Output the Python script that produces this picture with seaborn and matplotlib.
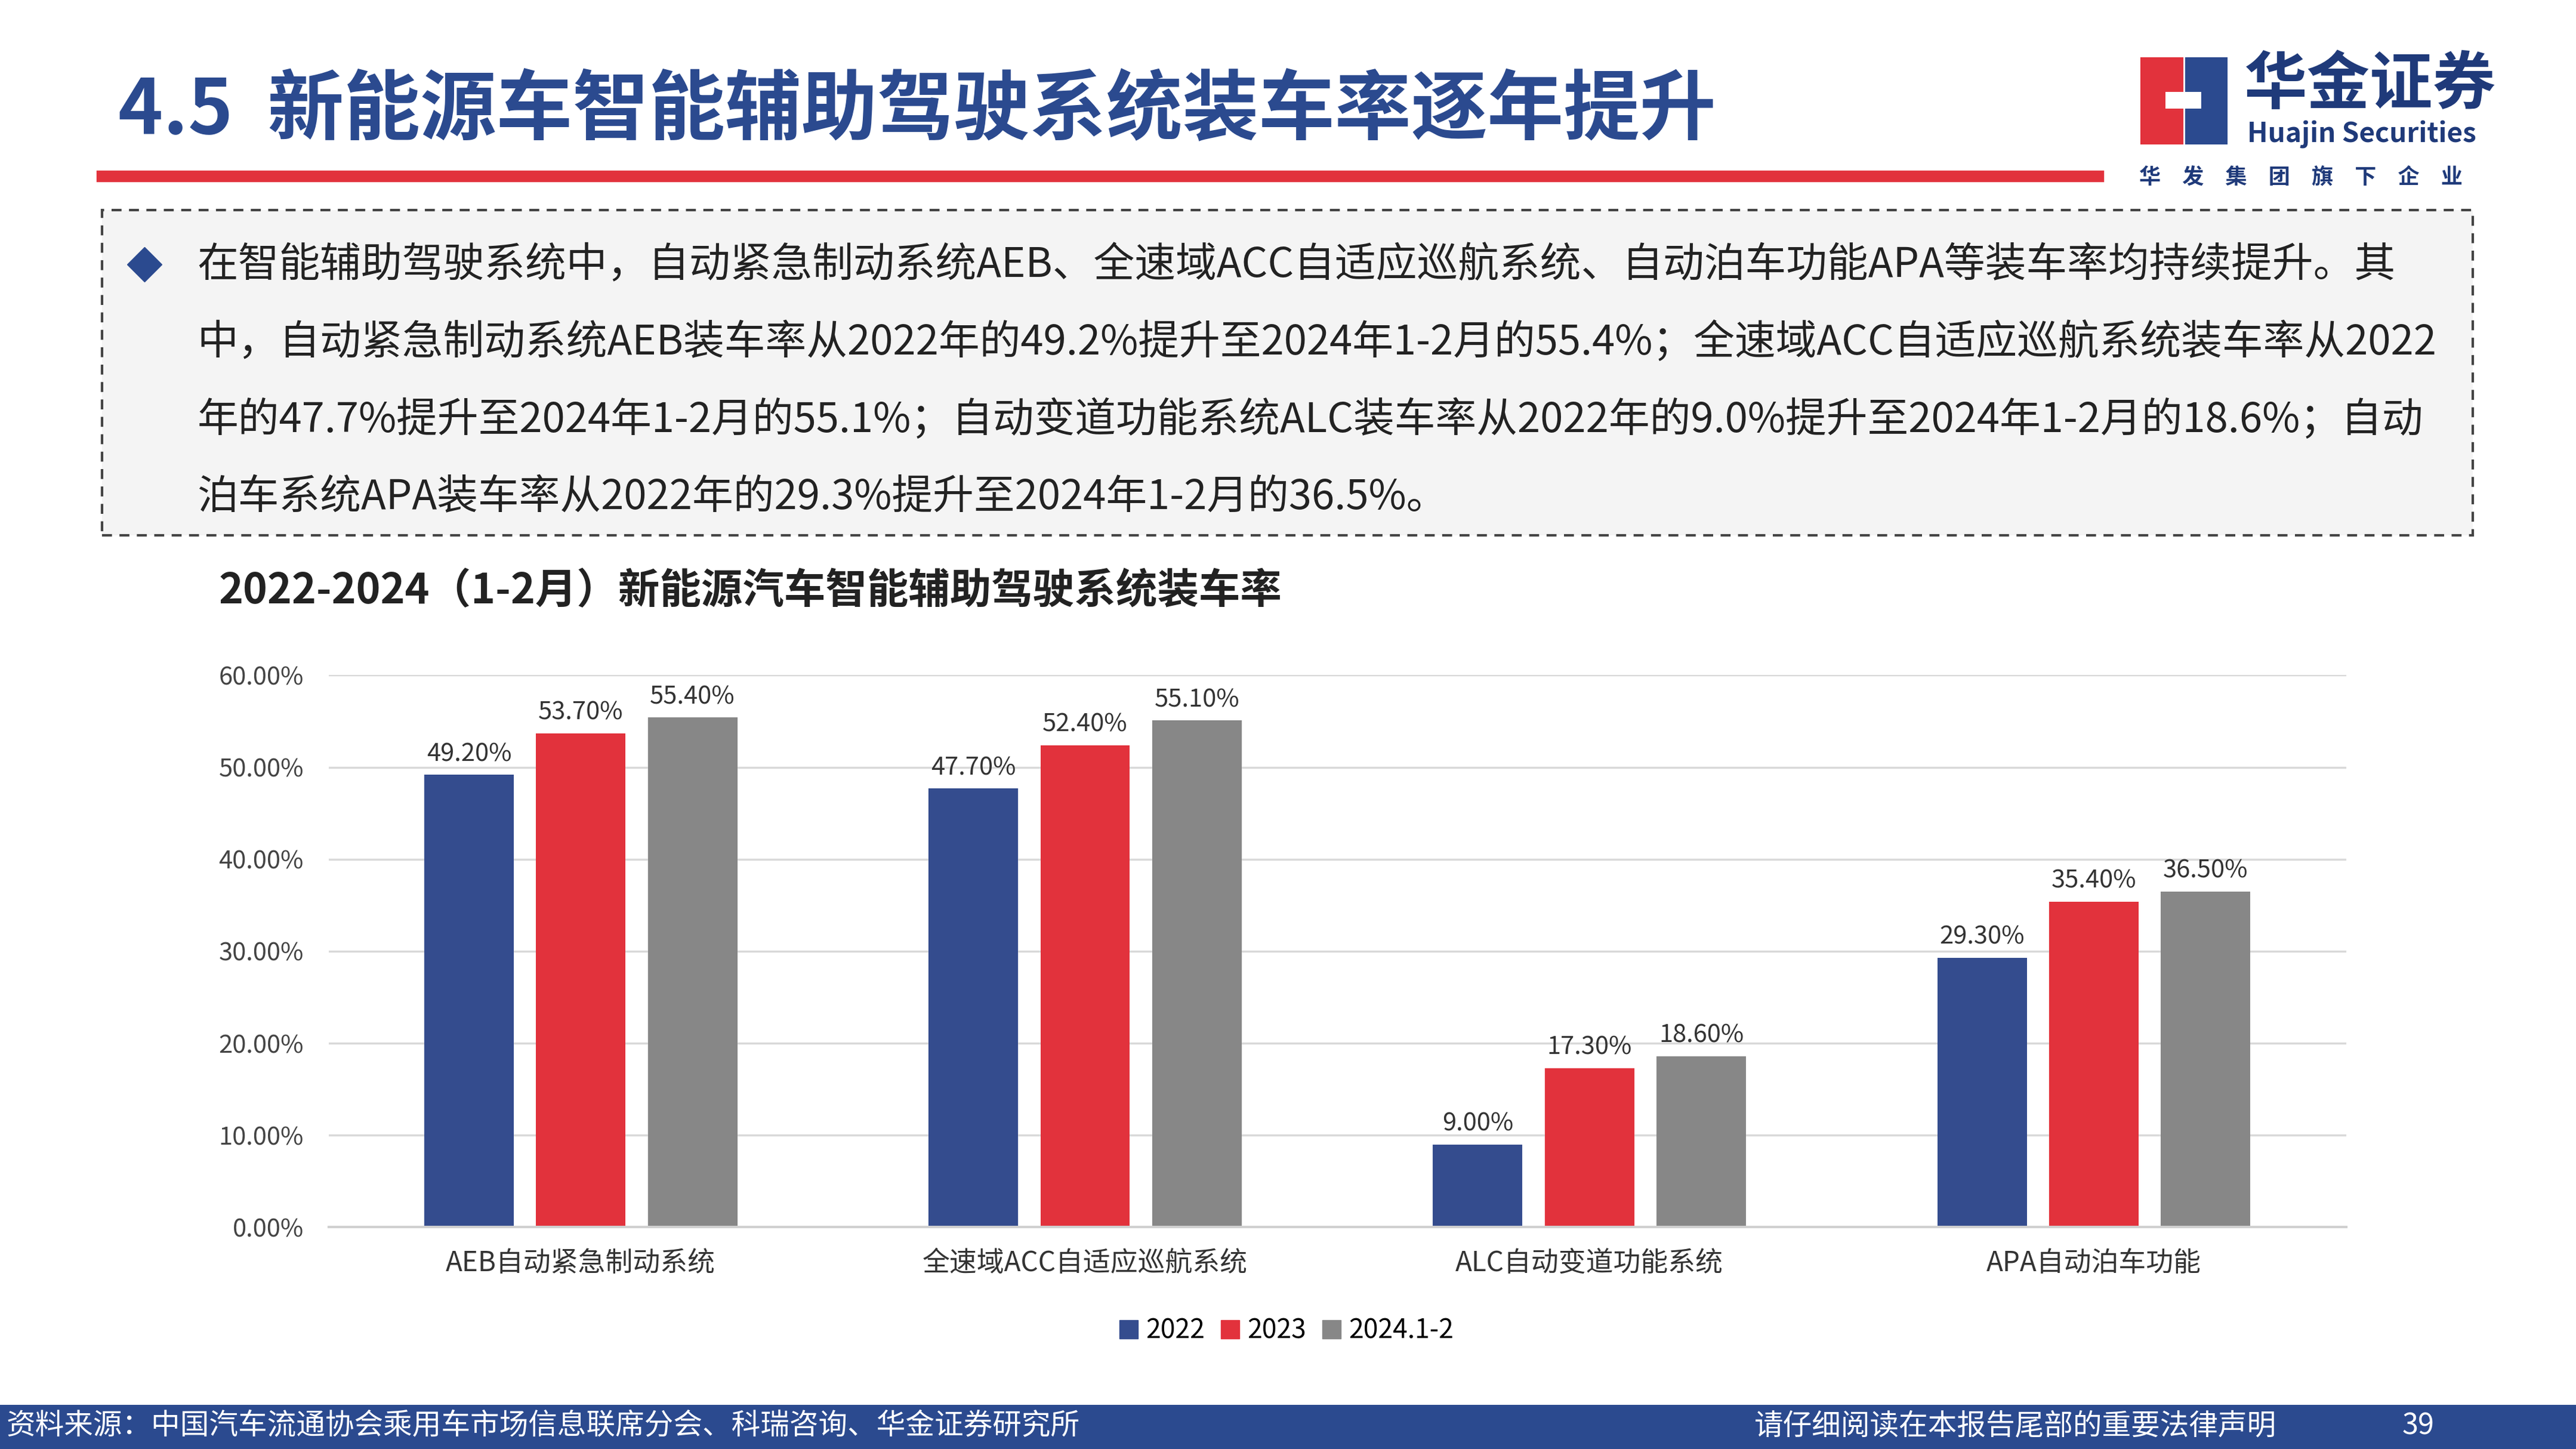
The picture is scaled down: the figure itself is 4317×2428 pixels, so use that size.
import pandas as pd
import matplotlib.pyplot as plt
import matplotlib.patches as mpatches
import seaborn as sns

plt.rcParams['font.family'] = ['Noto Sans CJK SC', 'DejaVu Sans']

categories = ['AEB自动紧急制动系统', '全速域ACC自适应巡航系统', 'ALC自动变道功能系统', 'APA自动泊车功能']
years = ['2022', '2023', '2024.1-2']
rate_2022 = [49.2, 47.7, 9.0, 29.3]
rate_2023 = [53.7, 52.4, 17.3, 35.4]
rate_2024 = [55.4, 55.1, 18.6, 36.5]
yticks = [0, 10, 20, 30, 40, 50, 60]

colors = ['#344C8E', '#E2323C', '#878787']
blue_title = '#2B4A8F'

rows = []
for vals, yr in zip([rate_2022, rate_2023, rate_2024], years):
    for c, v in zip(categories, vals):
        rows.append({'cat': c, 'year': yr, 'val': v})
df = pd.DataFrame(rows)

W, H = 1568, 882  # reference layout units
fig = plt.figure(figsize=(43.17, 24.28), dpi=100)


def fx(x):
    return x / W


def fy(y):
    return 1 - y / H


# title
fig.text(fx(72), fy(68), '4.5  新能源车智能辅助驾驶系统装车率逐年提升', fontsize=92,
         fontweight='bold', color=blue_title, va='center', ha='left')
fig.add_artist(plt.Line2D([fx(62), fx(1277)], [fy(107), fy(107)], color='#E2323C', lw=14))

# logo
fig.add_artist(mpatches.Rectangle((fx(1303), fy(88)), fx(26), 53 / H, color='#E2323C', lw=0))
fig.add_artist(mpatches.Rectangle((fx(1330), fy(88)), fx(26), 53 / H, color='#2B4A8F', lw=0))
fig.add_artist(mpatches.Rectangle((fx(1318), fy(66)), fx(22), 10 / H, color='white', lw=0))
fig.text(fx(1366), fy(52), '华金证券', fontsize=76, fontweight='bold', color='#1F3A7A', va='center')
fig.text(fx(1368), fy(82), 'Huajin Securities', fontsize=33, fontweight='bold', color='#1F3A7A', va='center')
fig.text(fx(1302), fy(108), '华　发　集　团　旗　下　企　业', fontsize=26, fontweight='bold',
         color='#1F3A7A', va='center')

# dashed text box
fig.add_artist(mpatches.Rectangle((fx(62), fy(326)), fx(1443), 198 / H, facecolor='#F4F4F4',
                                  edgecolor='#444444', lw=3, ls=(0, (4, 3))))
fig.add_artist(plt.Line2D([fx(88)], [fy(161)], marker='D', color='#2B4A8F', markersize=30))
lines = [
    '在智能辅助驾驶系统中，自动紧急制动系统AEB、全速域ACC自适应巡航系统、自动泊车功能APA等装车率均持续提升。其',
    '中，自动紧急制动系统AEB装车率从2022年的49.2%提升至2024年1-2月的55.4%；全速域ACC自适应巡航系统装车率从2022',
    '年的47.7%提升至2024年1-2月的55.1%；自动变道功能系统ALC装车率从2022年的9.0%提升至2024年1-2月的18.6%；自动',
    '泊车系统APA装车率从2022年的29.3%提升至2024年1-2月的36.5%。',
]
for i, t in enumerate(lines):
    fig.text(fx(120), fy(162 + i * 47), t, fontsize=49.5, color='#222222', va='center', ha='left')

# chart title
fig.text(fx(133), fy(360), '2022-2024（1-2月）新能源汽车智能辅助驾驶系统装车率', fontsize=50,
         fontweight='bold', color='#222222', va='center')

# chart
ax = fig.add_axes([fx(200), fy(747), fx(1228), (747 - 411) / H])
sns.barplot(data=df, x='cat', y='val', hue='year', palette=colors, width=0.665, gap=0.2,
            saturation=1, ax=ax, legend=False)
for cont in ax.containers:
    ax.bar_label(cont, labels=[f'{v:.2f}%' for v in cont.datavalues], padding=10,
                 fontsize=30, color='#333333')
ax.set_xlim(-0.5, 3.5)
ax.set_ylim(0, 60)
ax.set_yticks(yticks)
ax.set_yticklabels([f'{v:.2f}%' for v in yticks], fontsize=30, color='#444444')
ax.tick_params(axis='x', labelsize=33, colors='#333333', length=0, pad=26)
ax.tick_params(axis='y', length=0, pad=30)
ax.grid(axis='y', color='#D9D9D9', lw=2.5)
ax.set_axisbelow(True)
for s in ['top', 'right', 'left']:
    ax.spines[s].set_visible(False)
ax.spines['bottom'].set_color('#D0D0D0')
ax.spines['bottom'].set_linewidth(3)
ax.set_xlabel('')
ax.set_ylabel('')

handles = [mpatches.Patch(color=c, label=y) for c, y in zip(colors, years)]
fig.legend(handles=handles, loc='center', bbox_to_anchor=(fx(783), fy(810)), ncol=3, frameon=False,
           fontsize=32, handlelength=0.7, handleheight=0.7, handletextpad=0.3, columnspacing=0.6)

# footer
fig.add_artist(mpatches.Rectangle((0, 0), 1, 27 / H, color='#2B4A8F', lw=0))
fig.text(fx(4), fy(868), '资料来源：中国汽车流通协会乘用车市场信息联席分会、科瑞咨询、华金证券研究所', fontsize=35,
         color='white', va='center', style='italic')
fig.text(fx(1068), fy(868), '请仔细阅读在本报告尾部的重要法律声明', fontsize=35, color='white', va='center')
fig.text(fx(1462), fy(868), '39', fontsize=35, color='white', va='center')

fig.savefig('out.png', dpi=100)
